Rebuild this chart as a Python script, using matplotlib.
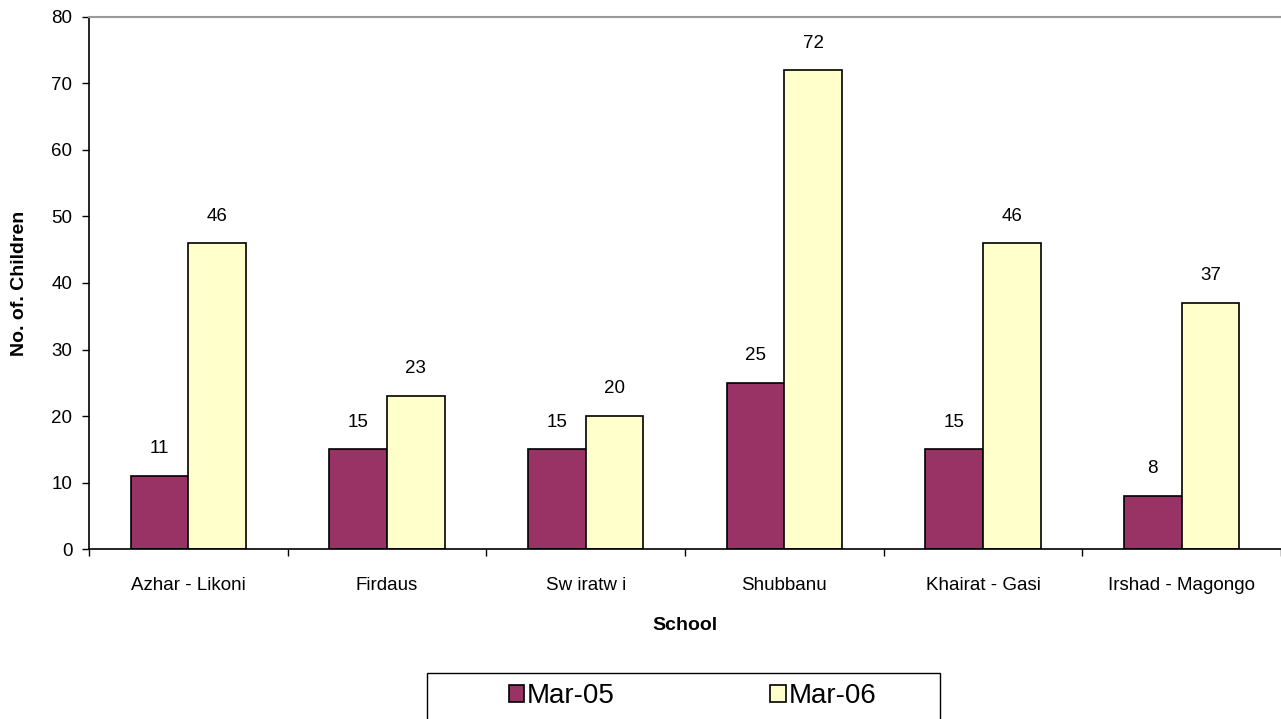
import numpy as np
import matplotlib.pyplot as plt
from matplotlib.patches import Rectangle

plt.rcParams['font.family'] = ['Liberation Sans', 'DejaVu Sans']

schools = ["Azhar - Likoni", "Firdaus", "Sw iratw i", "Shubbanu", "Khairat - Gasi", "Irshad - Magongo"]
mar05 = [11, 15, 15, 25, 15, 8]
mar06 = [46, 23, 20, 72, 46, 37]

fig = plt.figure(figsize=(12.81, 7.19), dpi=100)
ax = fig.add_axes([0.0695, 0.2364, 0.9305, 0.74])

x = np.arange(len(schools))
w = 0.29
b1 = ax.bar(x - w / 2, mar05, w, color='#993366', edgecolor='black', linewidth=1.2, label='Mar-05')
b2 = ax.bar(x + w / 2, mar06, w, color='#FFFFCC', edgecolor='black', linewidth=1.2, label='Mar-06')

# value labels above the bars
for bars in (b1, b2):
    for r in bars:
        ax.annotate(f"{int(r.get_height())}", (r.get_x() + r.get_width() / 2, r.get_height()),
                    xytext=(0, 19.5), textcoords='offset points', ha='center', va='center', fontsize=13.5)

ax.set_xlim(-0.5, 5.5)
ax.set_ylim(0, 80)
ax.set_yticks(range(0, 81, 10))
ax.tick_params(axis='y', labelsize=13.5, length=5, width=1, pad=7)
ax.set_xticks(x)
ax.set_xticklabels(schools, fontsize=13.5)
ax.set_xticks(np.arange(-0.5, 6, 1), minor=True)
ax.tick_params(axis='x', which='major', length=0, pad=20)
ax.tick_params(axis='x', which='minor', length=5, width=1)

ax.spines['right'].set_visible(False)
ax.spines['top'].set_color('#999999')
ax.spines['top'].set_linewidth(1.5)
ax.spines['left'].set_linewidth(1.2)
ax.spines['bottom'].set_linewidth(1.2)

ax.set_ylabel("No. of. Children", fontsize=14, fontweight='bold')
ax.set_xlabel("School", fontsize=14, fontweight='bold')
ax.yaxis.set_label_coords(-0.051, 0.5)
ax.xaxis.set_label_coords(0.5, -0.128)

# legend box, cut off at the bottom edge like the original
fig.patches.append(Rectangle((427 / 1281, -0.02), (940 - 427) / 1281, 0.02 + 46 / 719,
                             transform=fig.transFigure, facecolor='white', edgecolor='black',
                             linewidth=1, zorder=0))
leg = fig.legend(handles=[b1, b2], loc='center left', ncol=2,
                 bbox_to_anchor=(509 / 1281, 1 - 696 / 719), bbox_transform=fig.transFigure,
                 fontsize=20, frameon=False, handlelength=0.55, handleheight=0.55,
                 handletextpad=0.1, columnspacing=5.6, borderpad=0, borderaxespad=0)

fig.savefig("out.png", dpi=100)
